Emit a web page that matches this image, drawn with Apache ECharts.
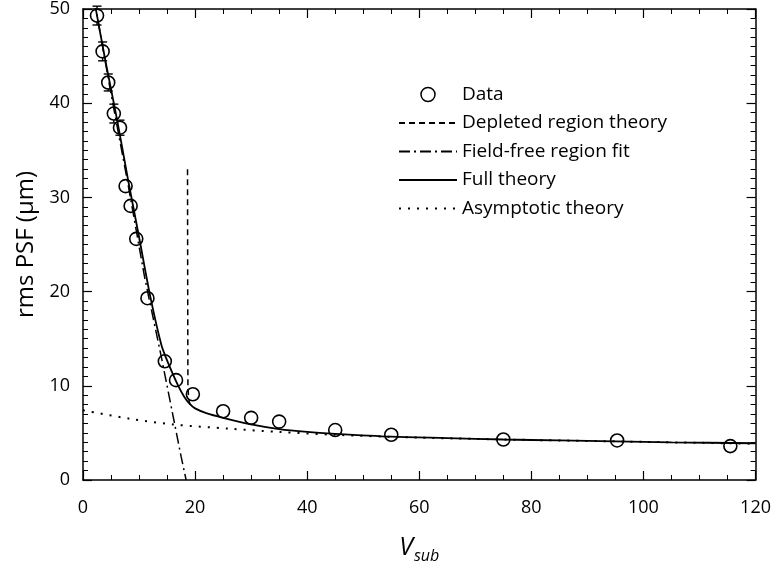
<!DOCTYPE html>
<html>
<head>
<meta charset="utf-8">
<script src="https://cdn.jsdelivr.net/npm/echarts@6/dist/echarts.min.js"></script>
<style>
  html, body { margin: 0; padding: 0; background: #fff; }
  #chart { width: 774px; height: 569px; }
</style>
</head>
<body>
<div id="chart"></div>
<script>
// measured points: Vsub, rms PSF, error bar half-height
const vsub = [2.5, 3.5, 4.5, 5.5, 6.6, 7.6, 8.5, 9.5, 11.5, 14.6, 16.6, 19.6, 25, 30, 35, 45, 55, 75, 95.3, 115.5];
const psf = [49.3, 45.5, 42.2, 38.9, 37.4, 31.2, 29.1, 25.6, 19.3, 12.6, 10.6, 9.1, 7.3, 6.6, 6.2, 5.3, 4.8, 4.3, 4.2, 3.6];
const psfErr = [1.0, 1.0, 0.9, 1.0, 0.8, 0.5, 0.4, 0.3, 0.3, 0.3, 0.2, 0.2, 0.1, 0.1, 0.1, 0.1, 0.1, 0.1, 0.1, 0.1];

// theory curves: [Vsub, rms PSF]
const depleted = [[18.65, 33], [18.68, 20], [18.72, 10], [18.85, 8.6], [19.1, 8.0]];
const fieldFree = [[2.0, 51], [5.0, 41], [8.0, 31.5], [11.0, 21.5], [14.0, 13.0], [16.0, 7.0], [17.5, 2.5], [18.4, 0]];
const fullTheory = [[2.1, 50.6], [4, 44.5], [6, 38.5], [8, 32], [10, 25.8], [12, 19.5], [14, 14.3], [15, 12.7],
  [16, 11.3], [17, 10], [18, 8.9], [19, 8.1], [20, 7.6], [22, 7.1], [25, 6.6], [30, 5.9], [35, 5.4], [40, 5.1],
  [45, 4.9], [55, 4.6], [65, 4.45], [75, 4.3], [85, 4.2], [95, 4.1], [105, 4.0], [120, 3.9]];
const asymptotic = [[0, 7.4], [8.4, 6.5], [16, 5.9], [26, 5.45], [35, 5.1], [45, 4.8], [60, 4.5], [80, 4.25], [100, 4.05], [120, 3.85]];

const myChart = echarts.init(document.getElementById('chart'));

const font = '"Open Sans", "DejaVu Sans", sans-serif';
const pts = vsub.map((v, i) => [v, psf[i], psfErr[i]]);

function axis(extra, minorSplit) {
  return Object.assign({
    type: 'value',
    axisLine: { show: true, onZero: false, lineStyle: { color: '#000', width: 1.5 } },
    axisTick: { show: true, inside: true, length: 9, lineStyle: { color: '#000', width: 1.2 } },
    minorTick: { show: true, splitNumber: minorSplit, length: 5, lineStyle: { color: '#000', width: 1 } },
    splitLine: { show: false },
    minorSplitLine: { show: false },
  }, extra);
}

const hideSym = { opacity: 0 };

const option = {
  animation: false,
  backgroundColor: '#fff',
  textStyle: { fontFamily: font },
  grid: { left: 83, right: 17, top: 6, bottom: 86 },
  legend: {
    orient: 'vertical',
    left: 393,
    top: 80,
    itemWidth: 58,
    itemHeight: 14,
    itemGap: 9.5,
    textStyle: { fontSize: 19, lineHeight: 19, color: '#000', fontFamily: font },
    data: [
      { name: 'Data', icon: 'circle', itemStyle: { color: '#fff', borderColor: '#000', borderWidth: 1.5, opacity: 1 } },
      { name: 'Depleted region theory', itemStyle: hideSym },
      { name: 'Field-free region fit', itemStyle: hideSym },
      { name: 'Full theory', itemStyle: hideSym },
      { name: 'Asymptotic theory', itemStyle: hideSym },
    ],
  },
  xAxis: [
    axis({
      min: 0, max: 120, interval: 20,
      axisLabel: { fontSize: 18, color: '#000', margin: 19 },
      name: '{v|V}{s|sub}',
      nameLocation: 'middle',
      nameGap: 52,
      nameTextStyle: {
        rich: {
          v: { fontSize: 25, fontStyle: 'italic', color: '#000' },
          s: { fontSize: 16, fontStyle: 'italic', color: '#000', verticalAlign: 'bottom', padding: [16, 0, 0, 1] },
        },
      },
    }, 4),
    axis({ min: 0, max: 120, interval: 20, position: 'top', axisLabel: { show: false } }, 4),
  ],
  yAxis: [
    axis({
      min: 0, max: 50, interval: 10,
      axisLabel: { fontSize: 18, color: '#000', margin: 13 },
      name: 'rms PSF (µm)',
      nameLocation: 'middle',
      nameGap: 41,
      nameTextStyle: { fontSize: 24, color: '#000' },
    }, 10),
    axis({ min: 0, max: 50, interval: 10, position: 'right', axisLabel: { show: false } }, 10),
  ],
  series: [
    {
      name: 'Data',
      type: 'scatter',
      data: pts.map(p => [p[0], p[1]]),
      symbol: 'circle',
      symbolSize: 13,
      itemStyle: { color: '#fff', borderColor: '#000', borderWidth: 1.6, opacity: 1 },
    },
    {
      name: 'DataErr',
      type: 'custom',
      data: pts,
      renderItem: (params, api) => {
        const x = api.value(0);
        const y = api.value(1);
        const e = api.value(2);
        const top = api.coord([x, y + e]);
        const bot = api.coord([x, y - e]);
        const half = 4.5;
        const style = { stroke: '#000', lineWidth: 1.4 };
        return {
          type: 'group',
          children: [
            { type: 'line', shape: { x1: top[0], y1: top[1], x2: bot[0], y2: bot[1] }, style },
            { type: 'line', shape: { x1: top[0] - half, y1: top[1], x2: top[0] + half, y2: top[1] }, style },
            { type: 'line', shape: { x1: bot[0] - half, y1: bot[1], x2: bot[0] + half, y2: bot[1] }, style },
          ],
        };
      },
    },
    {
      name: 'Depleted region theory',
      type: 'line',
      data: depleted,
      symbol: 'none',
      lineStyle: { color: '#000', width: 1.5, type: [6, 4] },
      itemStyle: { color: '#000' },
    },
    {
      name: 'Field-free region fit',
      type: 'line',
      data: fieldFree,
      symbol: 'none',
      lineStyle: { color: '#000', width: 1.5, type: [11, 4, 2, 4] },
      itemStyle: { color: '#000' },
    },
    {
      name: 'Full theory',
      type: 'line',
      data: fullTheory,
      symbol: 'none',
      smooth: 0.3,
      lineStyle: { color: '#000', width: 1.8 },
      itemStyle: { color: '#000' },
    },
    {
      name: 'Asymptotic theory',
      type: 'line',
      data: asymptotic,
      symbol: 'none',
      smooth: 0.3,
      lineStyle: { color: '#000', width: 2, type: [2, 7] },
      itemStyle: { color: '#000' },
    },
  ],
};

myChart.setOption(option);
window.onresize = () => {
  myChart.resize();
};
</script>
</body>
</html>
